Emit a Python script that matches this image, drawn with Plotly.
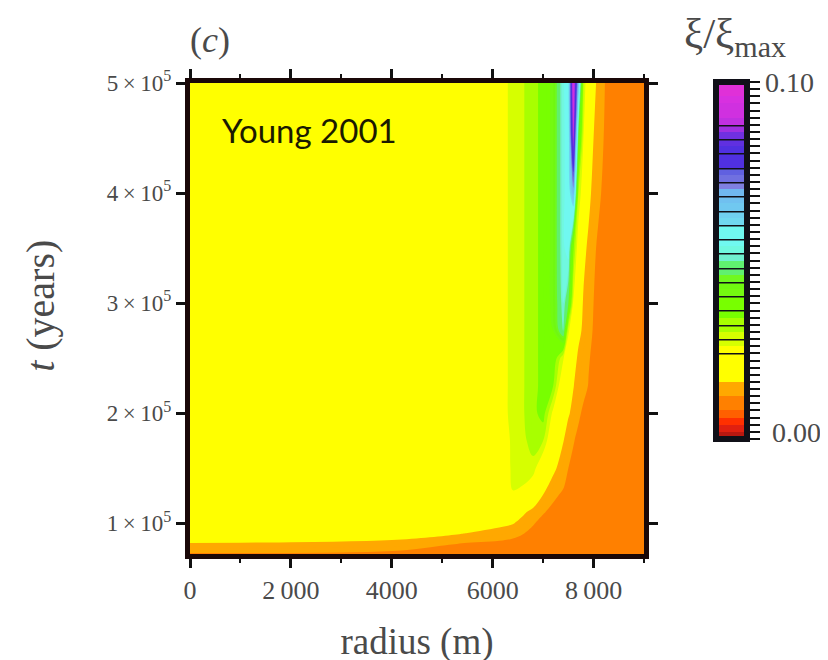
import plotly.graph_objects as go

radius_m = [0, 4100, 5500, 6200, 6400, 6600, 6800, 7000, 7200, 7400, 7500, 7600, 7700, 7800, 7900, 8000, 8100, 8300, 9000]
time_yr = [72000, 80000, 90000, 100000, 110000, 125000, 150000, 175000, 200000, 225000, 250000, 275000, 300000, 350000, 400000, 450000, 500000]

xi_t050 = [.018, .018, .018, .024, .028, .0296, .0325, .0355, .042, .0533, .058, .095, .065, .030, .020, .0175, .0145, .0105, .008]
xi_t045 = [.018, .018, .018, .024, .028, .0296, .0325, .0355, .042, .0533, .056, .089, .045, .026, .0185, .016, .0135, .0105, .008]
xi_t040 = [.018, .018, .018, .024, .028, .0296, .0325, .0355, .042, .0533, .056, .068, .030, .0215, .0175, .0145, .0125, .0105, .008]
xi_t035 = [.018, .018, .018, .024, .028, .0296, .0325, .0355, .042, .0533, .056, .035, .022, .0175, .015, .0125, .0115, .0105, .008]
xi_t030 = [.018, .018, .018, .024, .028, .0296, .0325, .0355, .042, .052, .046, .025, .0195, .0155, .0135, .012, .0112, .0105, .008]
xi_t0275 = [.018, .018, .018, .024, .028, .0296, .0325, .0355, .040, .051, .027, .021, .0172, .0152, .0128, .0118, .0112, .0105, .008]
xi_t025 = [.018, .018, .018, .024, .028, .0296, .0325, .0355, .038, .0265, .0215, .018, .0152, .0136, .0122, .0115, .011, .0105, .008]
xi_t0225 = [.018, .018, .018, .024, .028, .0296, .0325, .0355, .034, .0195, .0175, .0162, .0142, .0128, .0119, .0113, .011, .0105, .008]
xi_t020 = [.018, .018, .018, .024, .028, .0296, .0325, .036, .0245, .0185, .0165, .0148, .0125, .0115, .011, .0108, .0107, .0105, .008]
xi_t0175 = [.018, .018, .018, .0235, .027, .0285, .0325, .030, .0195, .0162, .0138, .0122, .0113, .011, .011, .0108, .0107, .0105, .008]
xi_t015 = [.018, .018, .018, .0235, .0268, .0285, .028, .0205, .0172, .0135, .012, .0112, .011, .011, .011, .0108, .0107, .0105, .008]
xi_t0125 = [.018, .018, .019, .0225, .0258, .0245, .0205, .0158, .0125, .0115, .011, .011, .011, .011, .011, .0108, .0107, .0105, .008]
xi_t011 = [.018, .018, .0195, .0185, .0178, .0168, .0145, .0122, .0113, .011, .011, .011, .011, .011, .011, .0108, .0107, .0105, .008]
xi_t010 = [.0185, .0185, .0178, .017, .0163, .0145, .0122, .0112, .011, .011, .011, .011, .011, .011, .011, .0108, .0107, .0105, .008]
xi_t009 = [.018, .0175, .0158, .014, .013, .012, .0113, .011, .011, .011, .011, .011, .011, .011, .011, .0108, .0107, .0105, .008]
xi_t008 = [.0155, .0145, .0109, .0105, .0105, .0105, .0105, .0105, .0105, .0105, .0105, .0105, .0105, .0105, .0105, .0105, .0105, .0105, .008]
xi_t0072 = [.0115, .0105, .010, .010, .010, .010, .010, .010, .010, .010, .010, .010, .010, .010, .010, .010, .010, .010, .008]

xi_table = [xi_t0072, xi_t008, xi_t009, xi_t010, xi_t011, xi_t0125, xi_t015, xi_t0175, xi_t020,
            xi_t0225, xi_t025, xi_t0275, xi_t030, xi_t035, xi_t040, xi_t045, xi_t050]

level_colors = [
    "#b81810", "#e02010", "#ff3000", "#ff6000", "#ff8000", "#ff8000", "#ffa800", "#ffa800",
    "#ffff00", "#ffff00", "#ffff00", "#ffff00", "#ffff00", "#d6ff00", "#d6ff00", "#a8ff00", "#a8ff00",
    "#78ff00", "#78ff00", "#78ff00", "#74fa10", "#70f810", "#70f820", "#60f070", "#60f070",
    "#70f0d0", "#70f8e0", "#70f8f0", "#70f8f0", "#70f8f0", "#70d8f0", "#70d0f0", "#70c8f0", "#70c0f0", "#70b8f0",
    "#8080e0", "#7070e0", "#6060e0", "#5030e0", "#5030e0", "#5030e0", "#6030e0", "#7030e0", "#a030e0",
    "#c030e0", "#d030e0", "#d030e0", "#d830e0", "#e030d8", "#e030d8",
]

x_ticks = [0, 2000, 4000, 6000, 8000]
x_labels = ["0", "2\u2009000", "4000", "6000", "8\u2009000"]
y_ticks = [100000, 200000, 300000, 400000, 500000]
y_labels = ["1\u2009\u00d7\u200910<sup>5</sup>", "2\u2009\u00d7\u200910<sup>5</sup>", "3\u2009\u00d7\u200910<sup>5</sup>",
            "4\u2009\u00d7\u200910<sup>5</sup>", "5\u2009\u00d7\u200910<sup>5</sup>"]
bar_tick_step = 0.002
bar_labels = {1: "\u00a00.00", 50: "0.10"}

n = len(level_colors)
colorscale = []
for i, c in enumerate(level_colors):
    colorscale.append([i / n, c])
    colorscale.append([(i + 1) / n, c])

serif = "Liberation Serif"
ink = "#4a4a4a"

bar_x = 1.158
bar_y = 1.002
bar_len = 357

fig = go.Figure(go.Contour(
    x=radius_m, y=time_yr, z=xi_table,
    zmin=0, zmax=0.1, colorscale=colorscale,
    autocontour=False,
    contours=dict(start=0, end=0.1, size=0.002, coloring="fill", showlines=False),
    line=dict(width=0, smoothing=1),
    hoverinfo="skip",
    colorbar=dict(
        x=bar_x, xanchor="left", y=bar_y, yanchor="top",
        thickness=31, thicknessmode="pixels", len=bar_len, lenmode="pixels",
        xpad=0, ypad=0, outlinecolor="#101018", outlinewidth=6,
        tickmode="array",
        tickvals=[i * bar_tick_step for i in range(n + 1)],
        ticktext=[bar_labels.get(i, "") for i in range(n + 1)],
        ticks="outside", ticklen=10, tickwidth=2, tickcolor="#111111",
        tickfont=dict(family=serif, size=28, color=ink),
    ),
))

# Stripes on the colour bar: a contour trace whose values stay below its first level
fig.add_trace(go.Contour(
    x=[0, 9000], y=[72000, 500000], z=[[0, 0], [0, 0]],
    zmin=0, zmax=0.1,
    colorscale=[[0, "#101018"], [1, "#101018"]],
    autocontour=False,
    contours=dict(start=0.024, end=0.09, size=0.004, coloring="lines"),
    line=dict(width=1.5, color="#101018"),
    hoverinfo="skip",
    colorbar=dict(
        x=bar_x, xanchor="left", y=bar_y, yanchor="top",
        thickness=31, thicknessmode="pixels", len=bar_len, lenmode="pixels",
        xpad=0, ypad=0, outlinewidth=0, ticks="", showticklabels=False,
    ),
))

fig.update_layout(
    width=828, height=660, autosize=False,
    margin=dict(l=182, r=189, t=75, b=114),
    paper_bgcolor="white", plot_bgcolor="white", showlegend=False,
    xaxis=dict(
        range=[0, 9000], tickmode="array", tickvals=x_ticks, ticktext=x_labels,
        ticks="outside", ticklen=9, tickwidth=3, tickcolor="#111111",
        showline=True, linecolor="#1a0808", linewidth=5, mirror="ticks",
        showgrid=False, zeroline=False,
        minor=dict(tickmode="array", tickvals=[1000, 3000, 5000, 7000, 9000], ticks="outside", ticklen=4, tickwidth=2, tickcolor="#111111", showgrid=False),
        tickfont=dict(family=serif, size=26, color=ink),
        title=dict(text="radius (m)", font=dict(family=serif, size=37, color=ink), standoff=25),
    ),
    yaxis=dict(
        range=[72000, 500000], tickmode="array", tickvals=y_ticks, ticktext=y_labels,
        ticks="outside", ticklen=9, tickwidth=3, tickcolor="#111111",
        showline=True, linecolor="#1a0808", linewidth=5, mirror="ticks",
        showgrid=False, zeroline=False,
        tickfont=dict(family=serif, size=23, color=ink),
    ),
    annotations=[
        dict(text="<i>t</i> (years)", xref="paper", yref="paper", x=-0.328, y=0.527, xanchor="center", yanchor="middle",
             textangle=-90, showarrow=False, font=dict(family=serif, size=40, color=ink)),
        dict(text="(<i>c</i>)", xref="paper", yref="paper", x=0.044, y=1.091, xanchor="center", yanchor="middle",
             showarrow=False, font=dict(family=serif, size=36, color=ink)),
        dict(text="Young 2001", xref="paper", yref="paper", x=0.066, y=0.9, xanchor="left", yanchor="middle",
             showarrow=False, font=dict(family="Lato", size=33, color="#1a1a00")),
        dict(text="\u03be/\u03be<sub>max</sub>", xref="paper", yref="paper", x=1.201, y=1.098, xanchor="center", yanchor="middle",
             showarrow=False, font=dict(family=serif, size=43, color=ink)),
    ],
)

fig.write_html("out.html")
